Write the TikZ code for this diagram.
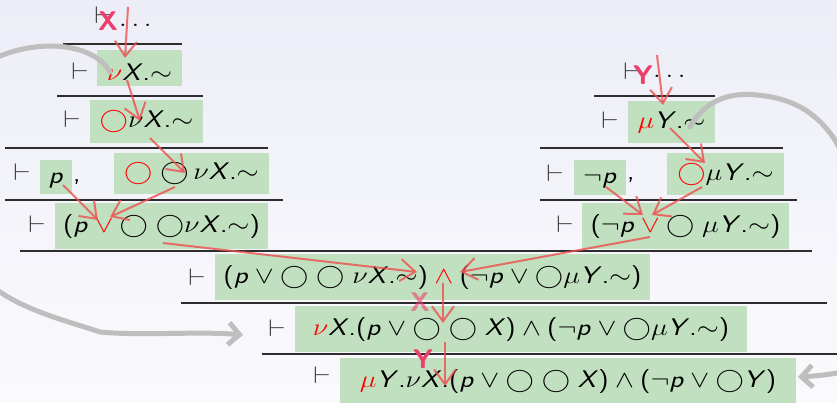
\documentclass[tikz,border=0pt]{standalone}
\usepackage{fix-cm}
\usepackage{graphicx}
\usetikzlibrary{arrows.meta}
\definecolor{boxgreen}{RGB}{193,224,191}
\definecolor{linegray}{RGB}{45,45,45}
\definecolor{turngray}{RGB}{60,60,60}
\definecolor{curvegray}{RGB}{190,190,190}
\definecolor{arrred}{RGB}{238,80,80}
\definecolor{labpink}{RGB}{236,64,108}
\definecolor{bgtop}{RGB}{237,237,247}
\definecolor{bgbot}{RGB}{250,250,253}
\newcommand{\sx}[1]{\scalebox{1.18}[1]{#1}}
\newcommand{\Xv}{\textsf{\textsl{X}}}
\newcommand{\Yv}{\textsf{\textsl{Y}}}
\newcommand{\Pv}{\textsf{\textsl{p}}}
\newcommand{\fdot}{\textsf{.}}
\newcommand{\Lp}{\mathopen{\textsf{(}}}
\newcommand{\Rp}{\mathclose{\textsf{)}}}
\newcommand{\tld}{\mathord{\sim}}
\newcommand{\cir}{\mathord{\bigcirc}}
\newcommand{\rcir}{\mathord{\color{red}\bigcirc}}
\newcommand{\rnu}{\mathord{\color{red}\nu}}
\newcommand{\rmu}{\mathord{\color{red}\mu}}
\newcommand{\ror}{\mathbin{\color{red}\vee}}
\newcommand{\rwedge}{\mathbin{\color{red}\wedge}}
\tikzset{
  gbox/.style={fill=boxgreen, inner sep=0pt, text height=18pt, text depth=6pt},
  turn/.style={inner sep=0pt, text=turngray},
  pline/.style={draw=linegray, line width=1.6pt},
  redarr/.style={draw=arrred, line width=2pt, draw opacity=0.8,
    -{Straight Barb[length=15pt,width=22pt]}},
  grayarr/.style={draw=curvegray, line width=5pt, line cap=round,
    -{Straight Barb[length=11pt,width=22pt]}},
  lab/.style={text=labpink, inner sep=0pt,
    font=\fontsize{27}{27}\selectfont\sffamily\bfseries},
}
\begin{document}
\begin{tikzpicture}[x=1pt,y=-1pt,
  every node/.style={font=\fontsize{24}{28}\selectfont}]
\useasboundingbox (0,0) rectangle (837,402);
\shade[top color=bgtop, bottom color=bgbot] (0,0) rectangle (837,402);
\clip (0,0) rectangle (837,402);

% inference lines
\draw[pline] (63,44) -- (182,44);
\draw[pline] (57,96) -- (203,96);
\draw[pline] (5,148) -- (268,148);
\draw[pline] (5,200) -- (283,200);
\draw[pline] (594,96) -- (715,96);
\draw[pline] (540,148) -- (783,148);
\draw[pline] (540,200) -- (797,200);
\draw[pline] (20,251) -- (812,251);
\draw[pline] (181,303) -- (827,303);
\draw[pline] (262,354) -- (837,354);

% turnstiles
\node[turn] (t0) at (103,15) {\sx{$\vdash$}};
\node[turn] (t1) at (80,71) {\sx{$\vdash$}};
\node[turn] (t2) at (72,119) {\sx{$\vdash$}};
\node[turn] (t3) at (22,172) {\sx{$\vdash$}};
\node[turn] (t4) at (37,224) {\sx{$\vdash$}};
\node[turn] (u0) at (632,71) {\sx{$\vdash$}};
\node[turn] (u1) at (610,120) {\sx{$\vdash$}};
\node[turn] (u2) at (555,173) {\sx{$\vdash$}};
\node[turn] (u3) at (565,224) {\sx{$\vdash$}};
\node[turn] (c1t) at (197,277) {\sx{$\vdash$}};
\node[turn] (c2t) at (277,328) {\sx{$\vdash$}};
\node[turn] (c3t) at (322,375) {\sx{$\vdash$}};

% dots and commas
\node[inner sep=0pt, anchor=base west] (d0) at (119,26) {\sx{$\ldots$}};
\node[inner sep=0pt, anchor=base west] (d1) at (653,77) {\sx{$\ldots$}};
\node[inner sep=0pt, anchor=base west] (cm1) at (73,181) {\sx{\textsf{,}}};
\node[inner sep=0pt, anchor=base west] (cm2) at (627,179) {\sx{\textsf{,}}};

% formula boxes
\node[gbox, text height=24pt, text depth=0pt, minimum width=85pt, minimum height=36pt] (L1) at (139.5,68)
  {\sx{$\rnu\Xv\fdot\tld$}};
\node[gbox, minimum width=113pt, minimum height=43pt] (L2) at (146.5,121.5)
  {\sx{$\rcir\nu\Xv\fdot\tld$}};
\node[gbox, minimum width=32pt, minimum height=34pt] (L3a) at (56,177)
  {\sx{$\Pv$}};
\node[gbox, minimum width=155pt, minimum height=41pt] (L3b) at (191.5,173.5)
  {\sx{$\rcir\;\cir\,\nu\Xv\fdot\tld$}};
\node[gbox, minimum width=213pt, minimum height=46pt] (L4) at (161.5,226)
  {\sx{$\Lp\Pv\ror\cir\;\cir\nu\Xv\fdot\tld\Rp$}};
\node[gbox, minimum width=87pt, minimum height=42pt] (R1) at (671.5,122)
  {\sx{$\rmu\Yv\fdot\tld$}};
\node[gbox, minimum width=52pt, minimum height=35pt] (R2a) at (600,177.5)
  {\sx{$\neg\Pv$}};
\node[gbox, minimum width=117pt, minimum height=42pt] (R2b) at (725.5,174)
  {\sx{$\rcir\mu\Yv\fdot\tld$}};
\node[gbox, minimum width=207pt, minimum height=46pt] (R3) at (685.5,226)
  {\sx{$\Lp\neg\Pv\ror\cir\;\mu\Yv\fdot\tld\Rp$}};
\node[gbox, minimum width=435pt, minimum height=46pt] (C1) at (432.5,277)
  {\sx{$\Lp\Pv\vee\cir\;\cir\;\nu\Xv\fdot\tld\Rp\rwedge\Lp\neg\Pv\vee\cir\mu\Yv\fdot\tld\Rp$}};
\node[gbox, minimum width=452pt, minimum height=46pt] (C2) at (521,329)
  {\sx{$\rnu\Xv\fdot\Lp\Pv\vee\cir\;\cir\;\Xv\Rp\wedge\Lp\neg\Pv\vee\cir\mu\Yv\fdot\tld\Rp$}};
\node[gbox, minimum width=456pt, minimum height=46pt] (C3) at (568,381)
  {\sx{$\rmu\Yv\fdot\nu\Xv\fdot\Lp\Pv\vee\cir\;\cir\;\Xv\Rp\wedge\Lp\neg\Pv\vee\cir\Yv\Rp$}};

% gray curved arrows
\coordinate (gA) at (110,72);
\coordinate (gB) at (243,335);
\coordinate (gC) at (690,127);
\coordinate (gD) at (798,377);
\draw[grayarr] (gA) .. controls (95,45) and (45,38) .. (0,56)
  .. controls (-60,80) and (-60,260) .. (0,292)
  .. controls (30,312) and (70,322) .. (100,332)
  .. controls (140,336) and (200,331) .. (gB);
\draw[grayarr] (gC) .. controls (705,100) and (730,92) .. (757,95)
  .. controls (790,98) and (815,110) .. (835,140)
  .. controls (880,220) and (900,365) .. (837,373)
  .. controls (825,375) and (815,376) .. (gD);

% red arrows
\coordinate (a1s) at (128,7);   \coordinate (a1e) at (125,58);
\coordinate (a2s) at (127,80);  \coordinate (a2e) at (140,121);
\coordinate (a3s) at (150,138); \coordinate (a3e) at (185,173);
\coordinate (a4s) at (175,187); \coordinate (a4e) at (110,217);
\coordinate (a5s) at (63,185);  \coordinate (a5e) at (98,220);
\coordinate (a6s) at (163,243); \coordinate (a6e) at (417,272);
\coordinate (a7s) at (657,55);  \coordinate (a7e) at (663,105);
\coordinate (a8s) at (670,128); \coordinate (a8e) at (705,163);
\coordinate (a9s) at (702,187); \coordinate (a9e) at (652,215);
\coordinate (a10s) at (606,187); \coordinate (a10e) at (643,215);
\coordinate (a11s) at (650,237); \coordinate (a11e) at (460,272);
\coordinate (a12s) at (443,283); \coordinate (a12e) at (443,323);
\coordinate (a13s) at (445,342); \coordinate (a13e) at (445,386);
\foreach \i in {1,...,13} {\draw[redarr] (a\i s) -- (a\i e);}

% labels
\node[lab] (lx1) at (108,21) {X};
\node[lab] (ly1) at (643,75) {Y};
\node[lab, text opacity=0.6] (lx2) at (420,302) {X};
\node[lab] (ly2) at (423,359) {Y};
\end{tikzpicture}
\end{document}
